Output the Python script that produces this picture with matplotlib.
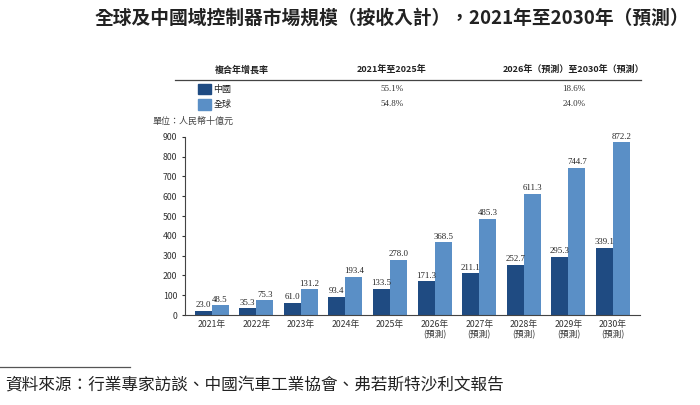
import matplotlib.pyplot as plt
import numpy as np

plt.rcParams['font.family'] = ['Noto Sans CJK TC', 'DejaVu Sans']

years = ['2021年', '2022年', '2023年', '2024年', '2025年', '2026年\n(預測)', '2027年\n(預測)',
         '2028年\n(預測)', '2029年\n(預測)', '2030年\n(預測)']
china = [23.0, 35.3, 61.0, 93.4, 133.5, 171.3, 211.1, 252.7, 295.3, 339.1]
world = [48.5, 75.3, 131.2, 193.4, 278.0, 368.5, 485.3, 611.3, 744.7, 872.2]
cagr_cols = ['複合年增長率', '2021年至2025年', '2026年（預測）至2030年（預測）']
cagr_china = ['55.1%', '18.6%']
cagr_world = ['54.8%', '24.0%']

C_DARK = '#1f4b82'
C_LIGHT = '#5a8fc6'

fig = plt.figure(figsize=(7, 4.05), dpi=100)
fig.text(0.56, 0.955, '全球及中國域控制器市場規模（按收入計），2021年至2030年（預測）',
         ha='center', va='center', fontsize=13.5, fontweight='bold', color='#222222')

# CAGR table
hx = [0.345, 0.56, 0.82]
for x, t in zip(hx, cagr_cols):
    fig.text(x, 0.828, t, ha='center', va='center', fontsize=6.5, fontweight='bold', color='#222222')
fig.add_artist(plt.Line2D([0.25, 0.915], [0.802, 0.802], color='#444444', lw=0.9))
for y, c, lab, vals in [(0.78, C_DARK, '中國', cagr_china), (0.742, C_LIGHT, '全球', cagr_world)]:
    fig.add_artist(plt.Rectangle((0.283, y - 0.013), 0.018, 0.026, color=c))
    fig.text(0.305, y, lab, ha='left', va='center', fontsize=6.5, color='#222222')
    fig.text(0.56, y, vals[0], ha='center', va='center', fontsize=6.5, family='Liberation Serif', color='#333333')
    fig.text(0.82, y, vals[1], ha='center', va='center', fontsize=6.5, family='Liberation Serif', color='#333333')
fig.text(0.218, 0.7, '單位：人民幣十億元', ha='left', va='center', fontsize=6.5, color='#444444')

ax = fig.add_axes([0.264, 0.222, 0.65, 0.44])
x = np.arange(len(years))
w = 0.38
ax.bar(x - w / 2, china, w, color=C_DARK)
ax.bar(x + w / 2, world, w, color=C_LIGHT)
for i in range(len(years)):
    ax.text(x[i] - w / 2, china[i] + 8, f'{china[i]:.1f}', ha='center', va='bottom', fontsize=6.3,
            family='Liberation Serif', color='#222222')
    ax.text(x[i] + w / 2, world[i] + 8, f'{world[i]:.1f}', ha='center', va='bottom', fontsize=6.3,
            family='Liberation Serif', color='#222222')
ax.set_ylim(0, 900)
ax.set_yticks(range(0, 901, 100))
ax.set_xlim(-0.6, len(years) - 0.4)
ax.set_xticks(x)
ax.set_xticklabels(years, fontsize=6.3, color='#333333', linespacing=1.1)
ax.tick_params(axis='y', labelsize=6.3, length=2, colors='#333333')
ax.tick_params(axis='x', length=0)
for s in ['top', 'right']:
    ax.spines[s].set_visible(False)
ax.spines['left'].set_color('#444444')
ax.spines['bottom'].set_color('#444444')

fig.add_artist(plt.Line2D([0.0, 0.185], [0.095, 0.095], color='#555555', lw=0.9))
fig.text(0.008, 0.05, '資料來源：行業專家訪談、中國汽車工業協會、弗若斯特沙利文報告',
         ha='left', va='center', fontsize=12, style='italic', color='#222222')

fig.savefig('out.png', dpi=100)
